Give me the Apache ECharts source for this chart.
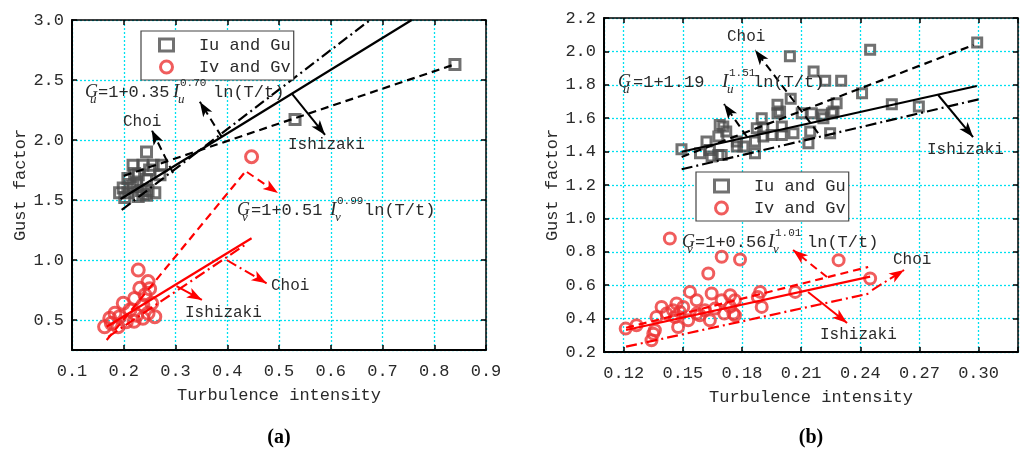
<!DOCTYPE html>
<html><head><meta charset="utf-8">
<script src="https://cdn.jsdelivr.net/npm/echarts@6/dist/echarts.min.js"></script>
<style>html,body{margin:0;padding:0;background:#fff}#c{width:1024px;height:455px}</style>
</head><body><div id="c"></div>
<script>
// ---------------- DATA ----------------
// Panel (a)
const aIu = [[0.192,1.56],[0.199,1.60],[0.202,1.52],[0.208,1.56],[0.208,1.68],[0.212,1.63],[0.218,1.61],[0.218,1.79],[0.221,1.72],[0.225,1.65],[0.228,1.53],[0.228,1.71],[0.234,1.58],[0.237,1.79],[0.237,1.55],[0.244,1.54],[0.244,1.67],[0.244,1.90],[0.247,1.58],[0.25,1.75],[0.257,1.79],[0.26,1.56],[0.27,1.71],[0.273,1.79],[0.531,2.17],[0.840,2.63]];
const aIv = [[0.163,0.444],[0.173,0.514],[0.176,0.472],[0.183,0.556],[0.189,0.444],[0.192,0.528],[0.199,0.639],[0.205,0.486],[0.212,0.583],[0.22,0.49],[0.221,0.68],[0.225,0.54],[0.228,0.917],[0.231,0.764],[0.237,0.625],[0.237,0.514],[0.241,0.708],[0.247,0.82],[0.247,0.556],[0.25,0.76],[0.254,0.64],[0.26,0.528],[0.447,1.861]];
const aFitUSolid = [[0.194,1.508],[0.7564,3.0]];
const aFitUDashDot = [[0.196,1.417],[0.676,3.0]];
const aFitUDashed = [[0.20,1.701],[0.840,2.631]];
const aFitVSolid = [[0.167,0.444],[0.447,1.181]];
const aFitVDashed = [[0.167,0.333],[0.4376,1.75]];
const aFitVDashDot = [[0.17,0.36],[0.434,1.125]];
// Panel (b)
const bIu = [[0.1493,1.414],[0.1587,1.39],[0.162,1.46],[0.1637,1.41],[0.1646,1.37],[0.168,1.38],[0.1697,1.38],[0.168,1.49],[0.1687,1.56],[0.1705,1.55],[0.172,1.52],[0.1774,1.46],[0.1774,1.43],[0.1807,1.43],[0.1866,1.39],[0.1866,1.46],[0.1875,1.54],[0.19,1.60],[0.1908,1.54],[0.1908,1.49],[0.195,1.50],[0.198,1.68],[0.1993,1.64],[0.198,1.63],[0.2002,1.55],[0.2002,1.50],[0.2043,1.971],[0.2047,1.716],[0.2061,1.51],[0.2103,1.63],[0.2137,1.45],[0.2146,1.52],[0.2154,1.63],[0.2163,1.88],[0.2205,1.62],[0.2213,1.60],[0.2222,1.824],[0.2247,1.51],[0.2256,1.63],[0.2264,1.64],[0.228,1.69],[0.2303,1.824],[0.2409,1.75],[0.245,2.01],[0.256,1.684],[0.2697,1.67],[0.2993,2.054]];
const bIv = [[0.121,0.34],[0.1265,0.36],[0.1341,0.27],[0.135,0.31],[0.1358,0.33],[0.1366,0.41],[0.1392,0.47],[0.1417,0.43],[0.1434,0.88],[0.145,0.45],[0.146,0.41],[0.1468,0.49],[0.1476,0.35],[0.1485,0.44],[0.1502,0.47],[0.1527,0.39],[0.1536,0.56],[0.157,0.51],[0.157,0.43],[0.1586,0.42],[0.1612,0.45],[0.1629,0.67],[0.1637,0.39],[0.1646,0.55],[0.1663,0.46],[0.1697,0.77],[0.1697,0.51],[0.171,0.43],[0.174,0.54],[0.174,0.47],[0.1756,0.43],[0.1764,0.51],[0.1764,0.42],[0.179,0.754],[0.188,0.53],[0.1892,0.56],[0.19,0.47],[0.207,0.56],[0.229,0.75],[0.245,0.64]];
const bFitUSolid = [[0.1494,1.399],[0.2991,1.793]];
const bFitUDashed = [[0.1494,1.368],[0.2974,2.038]];
const bFitUDashDot = [[0.1494,1.294],[0.30,1.713]];
const bFitVSolid = [[0.1212,0.332],[0.245,0.651]];
const bFitVDashed = [[0.1212,0.345],[0.244,0.709]];
const bFitVDashDot = [[0.1212,0.232],[0.245,0.551]];
// annotation arrows (data coordinates)
const aArrows = [
  {c:[[0.2952,1.725],[0.254,2.083]], col:'#000', t:'dashed'},
  {c:[[0.389,2.028],[0.347,2.319]], col:'#000', t:'dashed'},
  {c:[[0.5245,2.389],[0.589,2.042]], col:'#000', t:'solid'},
  {c:[[0.438,1.733],[0.498,1.558]], col:'#f00', t:'dashed'},
  {c:[[0.399,1.0],[0.476,0.806]], col:'#f00', t:'dashdot'},
  {c:[[0.302,0.783],[0.351,0.667]], col:'#f00', t:'solid'}
];
const bArrows = [
  {c:[[0.2186,1.511],[0.1866,2.008]], col:'#000', t:'dashed'},
  {c:[[0.1826,1.487],[0.1709,1.685]], col:'#000', t:'dashed'},
  {c:[[0.2795,1.739],[0.2972,1.487]], col:'#000', t:'solid'},
  {c:[[0.2231,0.649],[0.2059,0.811]], col:'#f00', t:'dashed'},
  {c:[[0.246,0.571],[0.2622,0.691]], col:'#f00', t:'dashdot'},
  {c:[[0.2135,0.559],[0.2333,0.374]], col:'#f00', t:'solid'}
];
const legendNames = ['Iu and Gu','Iv and Gv'];

// ---------------- STYLE / LAYOUT ----------------
const MONO = "'Liberation Mono','DejaVu Sans Mono',monospace";
const SERIF = "'Liberation Serif','DejaVu Serif',serif";
const TXT = '#2a2a2a';
const GRIDC = '#00e0f0';
const DASH = [8,5];
const DASHDOT = [11,4,2,4];
function dashOf(t){ return t==='dashed'?DASH:(t==='dashdot'?DASHDOT:'solid'); }
function onStep(v, step){ const k=Math.round(v/step); return Math.abs(k*step-v)<1e-6; }

function xAxes(gi, min, max, step, dec){
  const base = {type:'value', gridIndex:gi, min:min, max:max, splitNumber:Math.round((max-min)/step),
    minInterval:step, maxInterval:step};
  return [
    Object.assign({}, base, {position:'bottom',
      axisLine:{lineStyle:{color:'#000',width:2}},
      axisTick:{inside:true,length:5,lineStyle:{color:'#000',width:1.5}},
      axisLabel:{fontFamily:MONO,fontSize:17,color:TXT,margin:13,
        formatter:function(v){ return onStep(v,step)? v.toFixed(dec):''; }},
      splitLine:{show:true,lineStyle:{color:GRIDC,type:[2,2],width:1.3}},
      name:'Turbulence intensity', nameLocation:'middle', nameGap:37,
      nameTextStyle:{fontFamily:MONO,fontSize:17,color:TXT}}),
    Object.assign({}, base, {position:'top',
      axisLine:{lineStyle:{color:'#000',width:1.5}},
      axisTick:{inside:true,length:5,lineStyle:{color:'#000',width:1.5}},
      axisLabel:{show:false}, splitLine:{show:false}})
  ];
}
function yAxes(gi, min, max, step, dec){
  const base = {type:'value', gridIndex:gi, min:min, max:max, splitNumber:Math.round((max-min)/step),
    minInterval:step, maxInterval:step};
  return [
    Object.assign({}, base, {position:'left',
      axisLine:{lineStyle:{color:'#000',width:2}},
      axisTick:{inside:true,length:5,lineStyle:{color:'#000',width:1.5}},
      axisLabel:{fontFamily:MONO,fontSize:17,color:TXT,margin:8,
        formatter:function(v){ return onStep(v,step)? v.toFixed(dec):''; }},
      splitLine:{show:true,lineStyle:{color:GRIDC,type:[2,2],width:1.3}},
      name:'Gust factor', nameLocation:'middle', nameGap:41,
      nameTextStyle:{fontFamily:MONO,fontSize:17,color:TXT}}),
    Object.assign({}, base, {position:'right',
      axisLine:{lineStyle:{color:'#000',width:1.5}},
      axisTick:{inside:true,length:5,lineStyle:{color:'#000',width:1.5}},
      axisLabel:{show:false}, splitLine:{show:false}})
  ];
}

const sqStyle = {color:'rgba(0,0,0,0)', borderColor:'#4d4d4d', borderWidth:3};
const ciStyle = {color:'rgba(0,0,0,0)', borderColor:'#ec3535', borderWidth:3};

function scatter(name, data, ax, symbol, size, style){
  return {type:'scatter', name:name, xAxisIndex:ax, yAxisIndex:ax, data:data, symbol:symbol,
    symbolSize:size, itemStyle:style, z:2, silent:true};
}
function fit(data, color, t, ax){
  return {type:'line', xAxisIndex:ax, yAxisIndex:ax, data:data, symbol:'none', silent:true,
    lineStyle:{color:color, width:2.2, type:dashOf(t)}, z:3, clip:true};
}
function arrows(list, ax){
  return list.map(function(a){ return {type:'lines', coordinateSystem:'cartesian2d', xAxisIndex:ax, yAxisIndex:ax,
    symbol:['none','arrow'], symbolSize:[1,[8,15]], silent:true, z:4,
    lineStyle:{color:a.col, width:2, type:dashOf(a.t), opacity:1, curveness:0},
    data:[{coords:a.c}]}; });
}
function legend(left, top){
  return {left:left, top:top, orient:'vertical', padding:[5,3,4,17], itemGap:4, itemWidth:14, itemHeight:12,
    borderColor:'#444', borderWidth:1.2, backgroundColor:'#fff', selectedMode:false,
    textStyle:{fontFamily:MONO,fontSize:17,color:TXT,lineHeight:18},
    formatter:function(n){ return '  '+n; },
    data:[{name:legendNames[0], icon:'rect', itemStyle:sqStyle},{name:legendNames[1], icon:'circle', itemStyle:ciStyle}]};
}
function txt(x, y, s, font){
  return {type:'text', x:x, y:y, silent:true, z:10, style:{text:s, font:font||('16px '+MONO), fill:TXT, align:'left', verticalAlign:'middle'}};
}
function formula(gx, cy, sym, coef, eqx, ix, exp, lnx){
  return [
    txt(gx, cy, 'G', 'italic 18px '+SERIF),
    txt(gx+5, cy+8, sym, 'italic 13px '+SERIF),
    txt(eqx, cy, '=1+'+coef, '17px '+MONO),
    txt(ix, cy, 'I', 'italic 19px '+SERIF),
    txt(ix+7, cy-9, exp, '11px '+MONO),
    txt(ix+5, cy+8, sym, 'italic 13px '+SERIF),
    txt(lnx, cy, 'ln(T/t)', '17px '+MONO)
  ];
}

const graphics = [].concat(
  formula(85, 92, 'u', '0.35', 98, 173, '0.70', 213),
  formula(237, 210, 'v', '0.51', 251, 330, '0.99', 364),
  formula(618, 82, 'u', '1.19', 633, 722, '1.51', 753),
  formula(682, 242, 'v', '0.56', 695, 768, '1.01', 807),
  [
    txt(123, 122, 'Choi'), txt(288, 145, 'Ishizaki'),
    txt(271, 286, 'Choi'), txt(185, 313, 'Ishizaki'),
    txt(727, 37, 'Choi'), txt(927, 150, 'Ishizaki'),
    txt(893, 260, 'Choi'), txt(820, 335, 'Ishizaki'),
    {type:'text', x:279, y:438, style:{text:'(a)', font:'bold 20px '+SERIF, fill:'#000', align:'center', verticalAlign:'middle'}},
    {type:'text', x:811, y:438, style:{text:'(b)', font:'bold 20px '+SERIF, fill:'#000', align:'center', verticalAlign:'middle'}}
  ]
);

const option = {
  animation:false,
  backgroundColor:'#fff',
  grid:[{left:72, top:20, width:414, height:330},{left:604, top:18, width:414, height:334}],
  xAxis:[].concat(xAxes(0,0.1,0.9,0.1,1), xAxes(1,0.11,0.32,0.03,2)),
  yAxis:[].concat(yAxes(0,0.25,3.0,0.5,1), yAxes(1,0.2,2.2,0.2,1)),
  legend:[legend(141,31), legend(696,172)],
  series:[].concat(
    [ scatter(legendNames[0], aIu, 0, 'rect', 10, sqStyle),
      scatter(legendNames[1], aIv, 0, 'circle', 12, ciStyle),
      fit(aFitUSolid,'#000','solid',0), fit(aFitUDashDot,'#000','dashdot',0), fit(aFitUDashed,'#000','dashed',0),
      fit(aFitVSolid,'#f00','solid',0), fit(aFitVDashed,'#f00','dashed',0), fit(aFitVDashDot,'#f00','dashdot',0) ],
    arrows(aArrows, 0),
    [ scatter(legendNames[0], bIu, 2, 'rect', 9, sqStyle),
      scatter(legendNames[1], bIv, 2, 'circle', 11, ciStyle),
      fit(bFitUSolid,'#000','solid',2), fit(bFitUDashed,'#000','dashed',2), fit(bFitUDashDot,'#000','dashdot',2),
      fit(bFitVSolid,'#f00','solid',2), fit(bFitVDashed,'#f00','dashed',2), fit(bFitVDashDot,'#f00','dashdot',2) ],
    arrows(bArrows, 2)
  ),
  graphic: graphics
};
const chart = echarts.init(document.getElementById('c'), null, {renderer:'canvas', width:1024, height:455});
chart.setOption(option);
</script>
</body></html>
